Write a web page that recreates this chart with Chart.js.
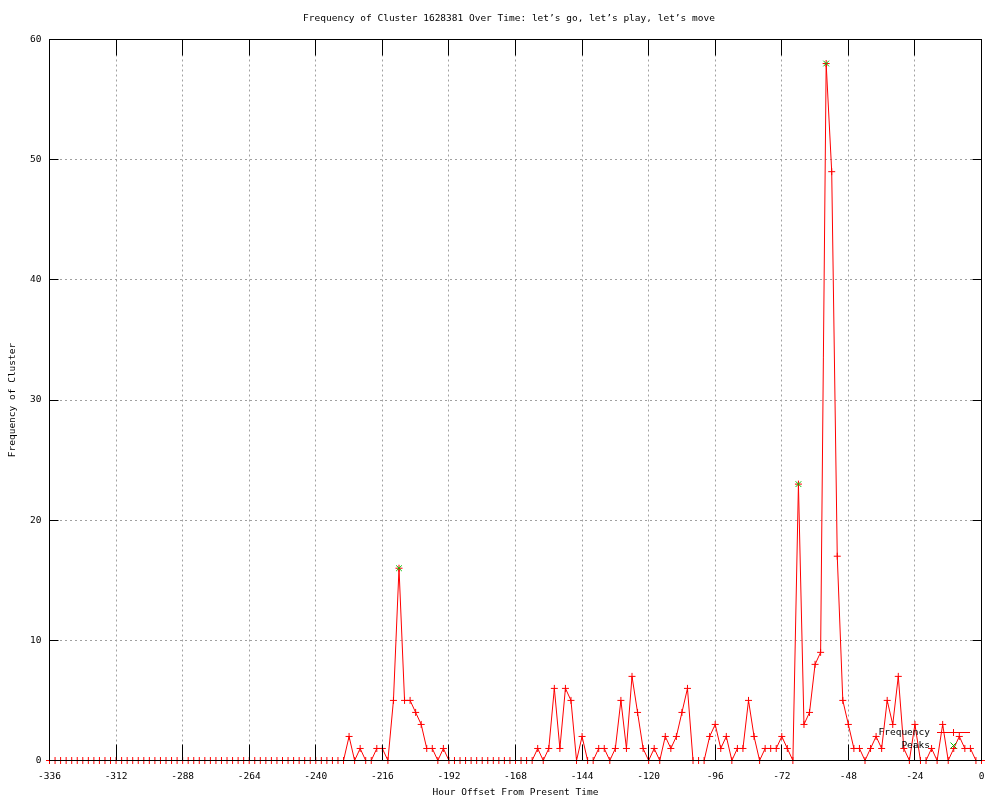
<!DOCTYPE html>
<html><head><meta charset="utf-8">
<script src="https://cdn.jsdelivr.net/npm/chart.js@4.4.1/dist/chart.umd.min.js"></script>
<style>html,body{margin:0;padding:0;background:#fff;}canvas{display:block;}</style>
</head><body>
<canvas id="c" width="1000" height="800"></canvas>
<script>
// Hour offsets (every 2 hours)
const hours = [
-336,-334,-332,-330,-328,-326,-324,-322,-320,-318,-316,-314,-312,-310,-308,-306,-304,-302,-300,-298,
-296,-294,-292,-290,-288,-286,-284,-282,-280,-278,-276,-274,-272,-270,-268,-266,-264,-262,-260,-258,
-256,-254,-252,-250,-248,-246,-244,-242,-240,-238,-236,-234,-232,-230,-228,-226,-224,-222,-220,-218,
-216,-214,-212,-210,-208,-206,-204,-202,-200,-198,-196,-194,-192,-190,-188,-186,-184,-182,-180,-178,
-176,-174,-172,-170,-168,-166,-164,-162,-160,-158,-156,-154,-152,-150,-148,-146,-144,-142,-140,-138,
-136,-134,-132,-130,-128,-126,-124,-122,-120,-118,-116,-114,-112,-110,-108,-106,-104,-102,-100,-98,
-96,-94,-92,-90,-88,-86,-84,-82,-80,-78,-76,-74,-72,-70,-68,-66,-64,-62,-60,-58,
-56,-54,-52,-50,-48,-46,-44,-42,-40,-38,-36,-34,-32,-30,-28,-26,-24,-22,-20,-18,
-16,-14,-12,-10,-8,-6,-4,-2,0
];
// Frequency of cluster at each hour offset
const frequency = [
0,0,0,0,0,0,0,0,0,0,0,0,0,0,0,0,0,0,0,0,
0,0,0,0,0,0,0,0,0,0,0,0,0,0,0,0,0,0,0,0,
0,0,0,0,0,0,0,0,0,0,0,0,0,0,2,0,1,0,0,1,
1,0,5,16,5,5,4,3,1,1,0,1,0,0,0,0,0,0,0,0,
0,0,0,0,0,0,0,0,1,0,1,6,1,6,5,0,2,0,0,1,
1,0,1,5,1,7,4,1,0,1,0,2,1,2,4,6,0,0,0,2,
3,1,2,0,1,1,5,2,0,1,1,1,2,1,0,23,3,4,8,9,
58,49,17,5,3,1,1,0,1,2,1,5,3,7,1,0,3,0,0,1,
0,3,0,1,2,1,1,0,0
];
// Detected peaks
const peakHours = [-210, -66, -56];
const peakValues = [16, 23, 58];
// Axis ticks
const xTicks = [-336,-312,-288,-264,-240,-216,-192,-168,-144,-120,-96,-72,-48,-24,0];
const yTicks = [0,10,20,30,40,50,60];

const titleText = "Frequency of Cluster 1628381 Over Time: let\u2019s go, let\u2019s play, let\u2019s move";
const xTitle = "Hour Offset From Present Time";
const yTitle = "Frequency of Cluster";
const seriesNames = ["Frequency", "Peaks"];

const FONT = "'DejaVu Sans Mono', 'Liberation Mono', monospace";
const RED = '#ff0000', GREEN = '#00c000';

const freqData = hours.map((h, i) => ({x: h, y: frequency[i]}));
const peakData = peakHours.map((h, i) => ({x: h, y: peakValues[i]}));

const framePlugin = {
  id: 'frame',
  afterDatasetsDraw(chart) {
    const {ctx, chartArea: a, scales: {x, y}} = chart;
    const al = p => Math.round(p - 0.5) + 0.5;
    ctx.save();
    ctx.strokeStyle = '#000';
    ctx.lineWidth = 1;
    ctx.setLineDash([]);
    ctx.beginPath();
    xTicks.forEach(v => {
      const px = al(x.getPixelForValue(v));
      ctx.moveTo(px, a.bottom); ctx.lineTo(px, a.bottom - 16);
      ctx.moveTo(px, a.top); ctx.lineTo(px, a.top + 16);
    });
    yTicks.forEach(v => {
      const py = al(y.getPixelForValue(v));
      ctx.moveTo(a.left, py); ctx.lineTo(a.left + 9, py);
      ctx.moveTo(a.right, py); ctx.lineTo(a.right - 9, py);
    });
    ctx.stroke();
    ctx.strokeRect(a.left, a.top, a.right - a.left, a.bottom - a.top);
    ctx.restore();
  },
  afterDraw(chart) {
    const {ctx} = chart;
    ctx.save();
    ctx.fillStyle = '#000';
    ctx.font = "9.5px " + FONT;
    ctx.textBaseline = 'middle';
    ctx.textAlign = 'center';
    ctx.fillText(titleText, 509, 19);
    // legend
    ctx.textAlign = 'right';
    ctx.fillText(seriesNames[0], 930, 733);
    ctx.fillText(seriesNames[1], 930, 746);
    ctx.strokeStyle = RED; ctx.lineWidth = 1;
    ctx.beginPath();
    ctx.moveTo(937, 732.5); ctx.lineTo(970, 732.5);
    ctx.moveTo(953.5, 729); ctx.lineTo(953.5, 736);
    ctx.moveTo(950, 732.5); ctx.lineTo(957, 732.5);
    ctx.stroke();
    ctx.strokeStyle = GREEN;
    ctx.beginPath();
    ctx.moveTo(950.5, 742.5); ctx.lineTo(956.5, 748.5);
    ctx.moveTo(956.5, 742.5); ctx.lineTo(950.5, 748.5);
    ctx.stroke();
    ctx.restore();
  }
};

new Chart(document.getElementById('c'), {
  type: 'line',
  data: {
    datasets: [
      {
        label: seriesNames[1], type: 'scatter', data: peakData, order: 0,
        showLine: false, pointStyle: 'crossRot', pointRadius: 4, pointBorderWidth: 1,
        borderColor: GREEN, backgroundColor: GREEN, clip: false
      },
      {
        label: seriesNames[0], data: freqData, order: 1,
        borderColor: RED, backgroundColor: RED, borderWidth: 1, tension: 0,
        pointStyle: 'cross', pointRadius: 3.5, pointBorderWidth: 1, fill: false, clip: false
      }
    ]
  },
  options: {
    responsive: false,
    animation: false,
    devicePixelRatio: 1,
    layout: {padding: {top: 39.5, right: 18.5, left: 0, bottom: 0}},
    plugins: {legend: {display: false}, title: {display: false}, tooltip: {enabled: false}},
    scales: {
      x: {
        type: 'linear', min: -336, max: 0,
        afterBuildTicks: s => { s.ticks = xTicks.map(v => ({value: v})); },
        afterFit: s => { s.height = 39.5; },
        ticks: {padding: 10, color: '#000', font: {family: FONT, size: 9.5}, callback: v => String(v), maxRotation: 0, autoSkip: false},
        grid: {color: '#a0a0a0', lineWidth: 1, drawTicks: false},
        border: {display: false, dash: [2, 3]},
        title: {display: true, text: xTitle, color: '#000', font: {family: FONT, size: 9.5}, padding: {top: 0, bottom: 1.5}}
      },
      y: {
        type: 'linear', min: 0, max: 60,
        afterBuildTicks: s => { s.ticks = yTicks.map(v => ({value: v})); },
        afterFit: s => { s.width = 49.5; },
        ticks: {padding: 8, color: '#000', font: {family: FONT, size: 9.5}, callback: v => String(v)},
        grid: {color: '#a0a0a0', lineWidth: 1, drawTicks: false},
        border: {display: false, dash: [2, 3]},
        title: {display: true, text: yTitle, color: '#000', font: {family: FONT, size: 9.5}, padding: {top: 7.3, bottom: 0}}
      }
    }
  },
  plugins: [framePlugin]
});
</script>
</body></html>
